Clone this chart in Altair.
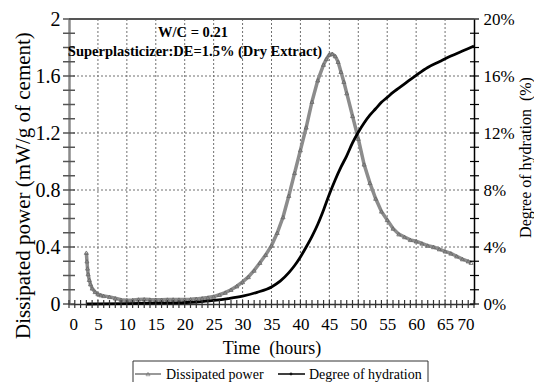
import altair as alt
import pandas as pd

# ---------------- data ----------------
power_t = [3.0, 3.1, 3.2, 3.3, 3.5, 3.7, 4.0, 4.5, 5.0, 5.5, 6.0, 7.0, 8.0, 9.0,
           10.0, 11.0, 12.0, 13.0, 14.0, 15.0, 16.0, 17.0, 18.0, 19.0, 20.0,
           21.0, 22.0, 23.0, 24.0, 25.0, 26.0, 27.0, 28.0, 29.0, 30.0, 31.0,
           32.0, 33.0, 34.0, 35.0, 36.0, 37.0, 38.0, 39.0, 40.0, 41.0, 42.0,
           43.0, 44.0, 44.5, 45.0, 45.5, 46.0, 46.5, 47.0, 47.5, 48.0, 49.0,
           50.0, 51.0, 52.0, 53.0, 54.0, 55.0, 56.0, 57.0, 58.0, 59.0, 60.0,
           61.0, 62.0, 63.0, 64.0, 65.0, 66.0, 67.0, 68.0, 69.0, 69.5]
power_v = [0.36, 0.30, 0.25, 0.21, 0.17, 0.14, 0.11, 0.085, 0.07, 0.062, 0.057,
           0.05, 0.04, 0.03, 0.027, 0.028, 0.032, 0.033, 0.031, 0.03, 0.03,
           0.031, 0.032, 0.031, 0.031, 0.033, 0.036, 0.04, 0.045, 0.052, 0.065,
           0.08, 0.10, 0.125, 0.155, 0.19, 0.235, 0.29, 0.345, 0.41, 0.50, 0.61,
           0.76, 0.92, 1.08, 1.24, 1.42, 1.57, 1.68, 1.72, 1.75, 1.755, 1.74,
           1.70, 1.63, 1.56, 1.48, 1.32, 1.16, 0.98, 0.85, 0.74, 0.65, 0.59,
           0.53, 0.49, 0.47, 0.45, 0.44, 0.425, 0.41, 0.40, 0.385, 0.37, 0.355,
           0.335, 0.315, 0.30, 0.29]

hyd_t = [3.0, 5.0, 10.0, 15.0, 20.0, 22.5, 25.0, 27.5, 30.0, 32.5, 35.0, 36.5,
         38.0, 39.0, 40.0, 41.0, 42.0, 43.0, 44.0, 45.0, 46.0, 47.0, 48.0, 49.0,
         50.0, 51.0, 52.0, 53.0, 54.0, 55.0, 56.0, 57.0, 58.0, 60.0, 62.0, 64.0,
         66.0, 68.0, 70.0]
hyd_v = [0.0, 0.01, 0.03, 0.06, 0.10, 0.15, 0.25, 0.38, 0.55, 0.82, 1.2, 1.6,
         2.2, 2.7, 3.3, 4.0, 4.75, 5.6, 6.6, 7.7, 8.7, 9.6, 10.4, 11.3,
         12.05, 12.7, 13.25, 13.7, 14.15, 14.5, 14.85, 15.15, 15.45, 16.05,
         16.6, 17.0, 17.4, 17.75, 18.1]

x_labels = [0, 5, 10, 15, 20, 25, 30, 35, 40, 45, 50, 55, 60, 65, 70]
x_grid = [5, 10, 15, 20, 25, 30, 35, 40, 45, 50, 55, 60, 65]
x_minor = list(range(0, 71))
y_left_labels = [0, 0.4, 0.8, 1.2, 1.6, 2.0]
y_grid = [0.4, 0.8, 1.2, 1.6]
y_left_minor = [0, 0.1, 0.2, 0.3, 0.4, 0.5, 0.6, 0.7, 0.8, 0.9, 1.0, 1.1, 1.2,
                1.3, 1.4, 1.5, 1.6, 1.7, 1.8, 1.9, 2.0]
y_right_labels = [0, 4, 8, 12, 16, 20]
y_right_minor = list(range(0, 21))

legend_labels = ["Dissipated power", "Degree of hydration"]
note_1 = "W/C = 0.21"
note_2 = "Superplasticizer:DE=1.5% (Dry Extract)"

# ---------------- chart ----------------
W, H = 405, 285
FONT = "'Liberation Serif', 'Times New Roman', 'DejaVu Serif', serif"
GRIDC = "#707070"
GDASH = [2, 2]

power_df = pd.DataFrame({"t": power_t, "v": power_v})
hyd_df = pd.DataFrame({"t": hyd_t, "h": hyd_v})

xscale = alt.Scale(domain=[0, 70], nice=False, zero=False)
yl_scale = alt.Scale(domain=[0, 2], nice=False)
yr_scale = alt.Scale(domain=[0, 20], nice=False)

x_axis = alt.Axis(values=x_labels, title="Time \u00a0(hours)", ticks=False, grid=False,
                  domainColor="#333333", domainWidth=1.5,
                  labelFont=FONT, labelFontSize=17, labelPadding=12, labelColor="black",
                  titleFont=FONT, titleFontSize=18, titleFontWeight="normal",
                  titleColor="black", titleY=44, titleBaseline="middle")
left_axis = alt.Axis(values=y_left_labels, format=".1~f", ticks=False, grid=False,
                     domainColor="#8a8a8a", domainWidth=2.5,
                     labelFont=FONT, labelFontSize=20, labelPadding=9, labelColor="black",
                     title="Dissipated power (mW/g of cement)",
                     titleFont=FONT, titleFontSize=21, titleFontWeight="normal",
                     titleColor="black", titleAngle=270, titleX=-36, titleY=166,
                     titleBaseline="bottom", titleAlign="center")
right_axis = alt.Axis(orient="right", values=y_right_labels,
                      labelExpr="datum.value + '%'", grid=False, ticks=False,
                      domainColor="black", domainWidth=1.5,
                      labelFont=FONT, labelFontSize=17, labelPadding=9, labelColor="black",
                      title="Degree of hydration \u00a0(%)",
                      titleFont=FONT, titleFontSize=16, titleFontWeight="normal",
                      titleColor="black", titleAngle=270, titleX=59, titleY=138,
                      titleBaseline="bottom", titleAlign="center")

X = alt.X("t:Q", scale=xscale, axis=x_axis)
YL = alt.Y("v:Q", scale=yl_scale, axis=left_axis)
YR = alt.Y("h:Q", scale=yr_scale, axis=right_axis)

# dotted grid
vgrid = alt.Chart(pd.DataFrame({"t": x_grid})).mark_rule(
    color=GRIDC, strokeWidth=1, strokeDash=GDASH).encode(
    x=X, y=alt.value(0), y2=alt.value(H))
hgrid = alt.Chart(pd.DataFrame({"v": y_grid})).mark_rule(
    color=GRIDC, strokeWidth=1, strokeDash=GDASH).encode(
    y=YL, x=alt.value(0), x2=alt.value(W))

power_line = alt.Chart(power_df).mark_line(color="#8c8c8c", strokeWidth=3.5).encode(x=X, y=YL)
power_pts = alt.Chart(power_df).mark_point(shape="triangle-up", size=16, filled=False,
                                           stroke="#666666", strokeWidth=0.8,
                                           opacity=1).encode(x=X, y=YL)
left_ticks = alt.Chart(pd.DataFrame({"v": y_left_minor})).mark_rule(
    color="#555555", strokeWidth=1.5).encode(y=YL, x=alt.value(-6), x2=alt.value(6))

hyd_line = alt.Chart(hyd_df).mark_line(color="black", strokeWidth=2.8,
                                       interpolate="monotone").encode(x=X, y=YR)
right_ticks = alt.Chart(pd.DataFrame({"h": y_right_minor})).mark_rule(
    color="black", strokeWidth=1.2).encode(y=YR, x=alt.value(W - 4), x2=alt.value(W + 5))

bottom_ticks = alt.Chart(pd.DataFrame({"t": x_minor})).mark_rule(
    color="#333333", strokeWidth=1.2).encode(x=X, y=alt.value(H - 4), y2=alt.value(H + 4))

one = pd.DataFrame({"a": [0]})
top_border = alt.Chart(one).mark_rule(color="#555555", strokeWidth=2).encode(
    x=alt.value(0), x2=alt.value(W), y=alt.value(0))

n1 = alt.Chart(pd.DataFrame({"s": [note_1]})).mark_text(
    font=FONT, fontSize=14.5, fontWeight="bold", color="black").encode(
    text="s:N", x=alt.value(124), y=alt.value(14))
n2 = alt.Chart(pd.DataFrame({"s": [note_2]})).mark_text(
    font=FONT, fontSize=14.5, fontWeight="bold", color="black").encode(
    text="s:N", x=alt.value(126), y=alt.value(33))

# manual legend below the plot
leg_box = alt.Chart(one).mark_rect(fillOpacity=0, stroke="#333333", strokeWidth=1).encode(
    x=alt.value(64), x2=alt.value(359), y=alt.value(342), y2=alt.value(372))
leg_l1 = alt.Chart(one).mark_rule(color="#777777", strokeWidth=1.5).encode(
    x=alt.value(66), x2=alt.value(92), y=alt.value(355))
leg_p1 = alt.Chart(one).mark_point(shape="triangle-up", size=16, filled=False,
                                   stroke="#666666", strokeWidth=0.8).encode(
    x=alt.value(79), y=alt.value(355))
leg_t1 = alt.Chart(pd.DataFrame({"s": [legend_labels[0]]})).mark_text(
    font=FONT, fontSize=14, align="left", baseline="middle", color="black").encode(
    text="s:N", x=alt.value(97), y=alt.value(356))
leg_l2 = alt.Chart(one).mark_rule(color="black", strokeWidth=1.5).encode(
    x=alt.value(209), x2=alt.value(236), y=alt.value(355))
leg_p2 = alt.Chart(one).mark_point(shape="circle", size=8, filled=True,
                                   color="black").encode(
    x=alt.value(222), y=alt.value(355))
leg_t2 = alt.Chart(pd.DataFrame({"s": [legend_labels[1]]})).mark_text(
    font=FONT, fontSize=14, align="left", baseline="middle", color="black").encode(
    text="s:N", x=alt.value(240), y=alt.value(356))

left_group = alt.layer(hgrid, power_line, power_pts, left_ticks)
right_group = alt.layer(hyd_line, right_ticks)

chart = alt.layer(
    vgrid, left_group, right_group, bottom_ticks, top_border, n1, n2,
    leg_box, leg_l1, leg_p1, leg_t1, leg_l2, leg_p2, leg_t2
).resolve_scale(y="independent").properties(
    width=W, height=H,
    autosize=alt.AutoSizeParams(type="none"),
    padding={"left": 69, "top": 19, "right": 60, "bottom": 78},
    background="white",
).configure(font=FONT).configure_view(stroke=None).configure_axis(
    labelFont=FONT, titleFont=FONT)

chart.save("out.html", embed_options={"renderer": "svg", "actions": False})
